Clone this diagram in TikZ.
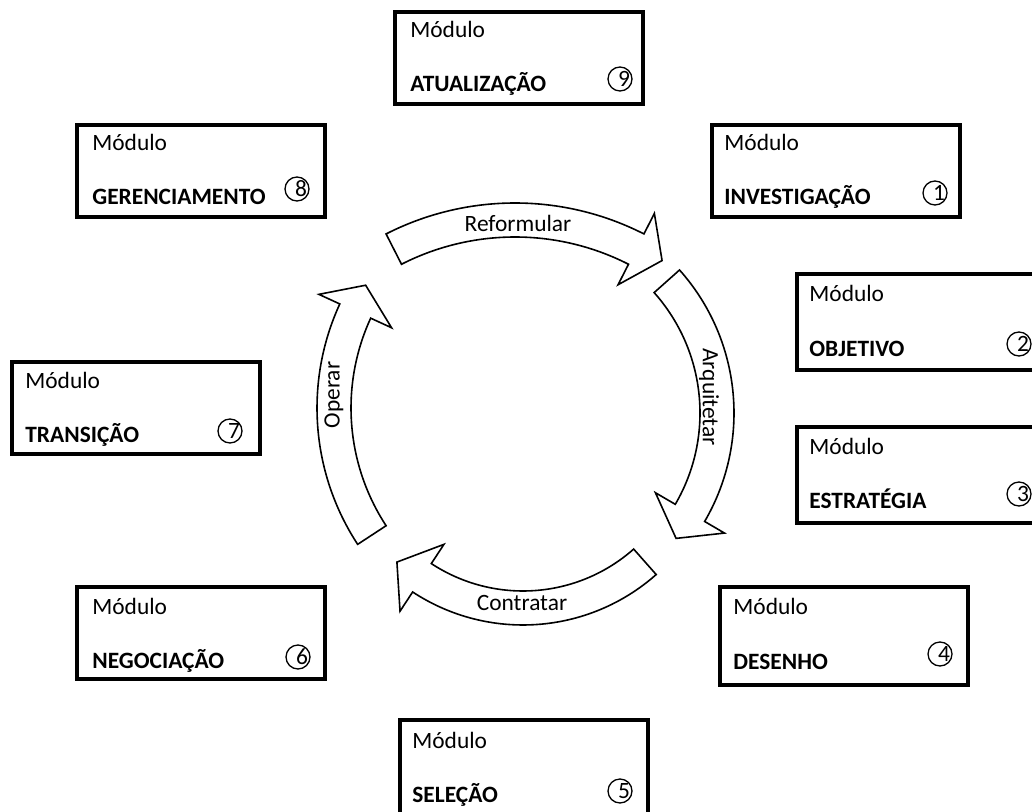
\documentclass[tikz,border=0pt]{standalone}
\usepackage{fontspec}
\setmainfont{Carlito}
\usetikzlibrary{positioning}

\begin{document}
\begin{tikzpicture}[
  x=0.5pt, y=-0.5pt,
  every node/.style={inner sep=0pt,font=\fontsize{11.7}{14}\selectfont},
  modbox/.style={draw,line width=1.8pt,anchor=north west,
   minimum width=124pt,minimum height=46pt},
  modtitle/.style={anchor=base west},
  modname/.style={anchor=base west,font=\fontsize{11.7}{14}\selectfont\bfseries},
  modnum/.style={draw,circle,line width=0.65pt,minimum size=12pt},
  cyclearrow/.style={draw,fill=white,line width=0.8pt,line join=miter},
  steplabel/.style={anchor=center}
  ]
  \useasboundingbox (0,0) rectangle (1032,812);

  % ring of the cycle
  \begin{scope}[shift={(515,487)},yscale=-1]
   \draw[cyclearrow] (117:284) arc[start angle=117,end angle=63,radius=284]
    -- (63:307) -- (57:270) -- (63:227) -- (63:250)
    arc[start angle=63,end angle=117,radius=250] -- cycle;
  \end{scope}
  \begin{scope}[shift={(519,413)},yscale=-1]
   \draw[cyclearrow] (41.7:215) arc[start angle=41.7,end angle=-30.3,radius=215]
    -- (-30.3:238) -- (-38.6:201) -- (-30.3:158) -- (-30.3:181)
    arc[start angle=-30.3,end angle=41.7,radius=181] -- cycle;
  \end{scope}
  \begin{scope}[shift={(523,424)},yscale=-1]
   \draw[cyclearrow] (-48.5:201) arc[start angle=-48.5,end angle=-123.3,radius=201]
    -- (-123.3:224) -- (-132.4:187) -- (-123.3:144) -- (-123.3:167)
    arc[start angle=-123.3,end angle=-48.5,radius=167] -- cycle;
  \end{scope}
  \begin{scope}[shift={(566,408)},yscale=-1]
   \draw[cyclearrow] (213.2:249) arc[start angle=213.2,end angle=155.3,radius=249]
    -- (155.3:272) -- (148.5:235) -- (155.3:192) -- (155.3:215)
    arc[start angle=155.3,end angle=213.2,radius=215] -- cycle;
  \end{scope}
  \node[steplabel] (reform) at (518,223) {Reformular};
  \node[steplabel,rotate=-90] (arquit) at (709,397) {Arquitetar};
  \node[steplabel] (contrat) at (522,603) {Contratar};
  \node[steplabel,rotate=90] (operar) at (334,395) {Operar};

  % modules
  \node[modbox] (b9) at (393,10) {};
  \node[modtitle] (b9t) at ([shift={(17,28)}]b9.north west) {Módulo};
  \node[modname] (b9n) at ([shift={(17,82)}]b9.north west) {ATUALIZAÇÃO};
  \node[modnum,label={[xshift=2pt]center:9}] (c9) at (620,79) {};

  \node[modbox] (b1) at (710,123) {};
  \node[modtitle] (b1t) at ([shift={(14,28)}]b1.north west) {Módulo};
  \node[modname] (b1n) at ([shift={(14,82)}]b1.north west) {INVESTIGAÇÃO};
  \node[modnum,label={[xshift=2pt]center:1}] (c1) at (935,193) {};

  \node[modbox] (b8) at (75,123) {};
  \node[modtitle] (b8t) at ([shift={(17,28)}]b8.north west) {Módulo};
  \node[modname] (b8n) at ([shift={(17,82)}]b8.north west) {GERENCIAMENTO};
  \node[modnum,label={[xshift=2pt]center:8}] (c8) at (297,189) {};

  \node[modbox,minimum width=130pt,minimum height=48pt] (b2) at (795,272) {};
  \node[modtitle] (b2t) at ([shift={(14,30)}]b2.north west) {Módulo};
  \node[modname] (b2n) at ([shift={(14,85)}]b2.north west) {OBJETIVO};
  \node[modnum,label={[xshift=2pt]center:2}] (c2) at (1019,344) {};

  \node[modbox,minimum width=130pt,minimum height=48pt] (b3) at (795,425) {};
  \node[modtitle] (b3t) at ([shift={(14,29)}]b3.north west) {Módulo};
  \node[modname] (b3n) at ([shift={(14,83)}]b3.north west) {ESTRATÉGIA};
  \node[modnum,label={[xshift=2pt]center:3}] (c3) at (1019,494) {};

  \node[modbox] (b7) at (10,360) {};
  \node[modtitle] (b7t) at ([shift={(15,28)}]b7.north west) {Módulo};
  \node[modname] (b7n) at ([shift={(15,82)}]b7.north west) {TRANSIÇÃO};
  \node[modnum,label={[xshift=2pt]center:7}] (c7) at (230,431) {};

  \node[modbox] (b6) at (75,585) {};
  \node[modtitle] (b6t) at ([shift={(17,29)}]b6.north west) {Módulo};
  \node[modname] (b6n) at ([shift={(17,83)}]b6.north west) {NEGOCIAÇÃO};
  \node[modnum,label={[xshift=2pt]center:6}] (c6) at (298,657) {};

  \node[modbox,minimum height=49pt] (b4) at (718,585) {};
  \node[modtitle] (b4t) at ([shift={(15,29)}]b4.north west) {Módulo};
  \node[modname] (b4n) at ([shift={(15,84)}]b4.north west) {DESENHO};
  \node[modnum,label={[xshift=2pt]center:4}] (c4) at (940,654) {};

  \node[modbox,minimum height=55pt] (b5) at (398,718) {};
  \node[modtitle] (b5t) at ([shift={(14,30)}]b5.north west) {Módulo};
  \node[modname] (b5n) at ([shift={(14,84)}]b5.north west) {SELEÇÃO};
  \node[modnum,label={[xshift=2pt]center:5}] (c5) at (620,791) {};
\end{tikzpicture}
\end{document}
